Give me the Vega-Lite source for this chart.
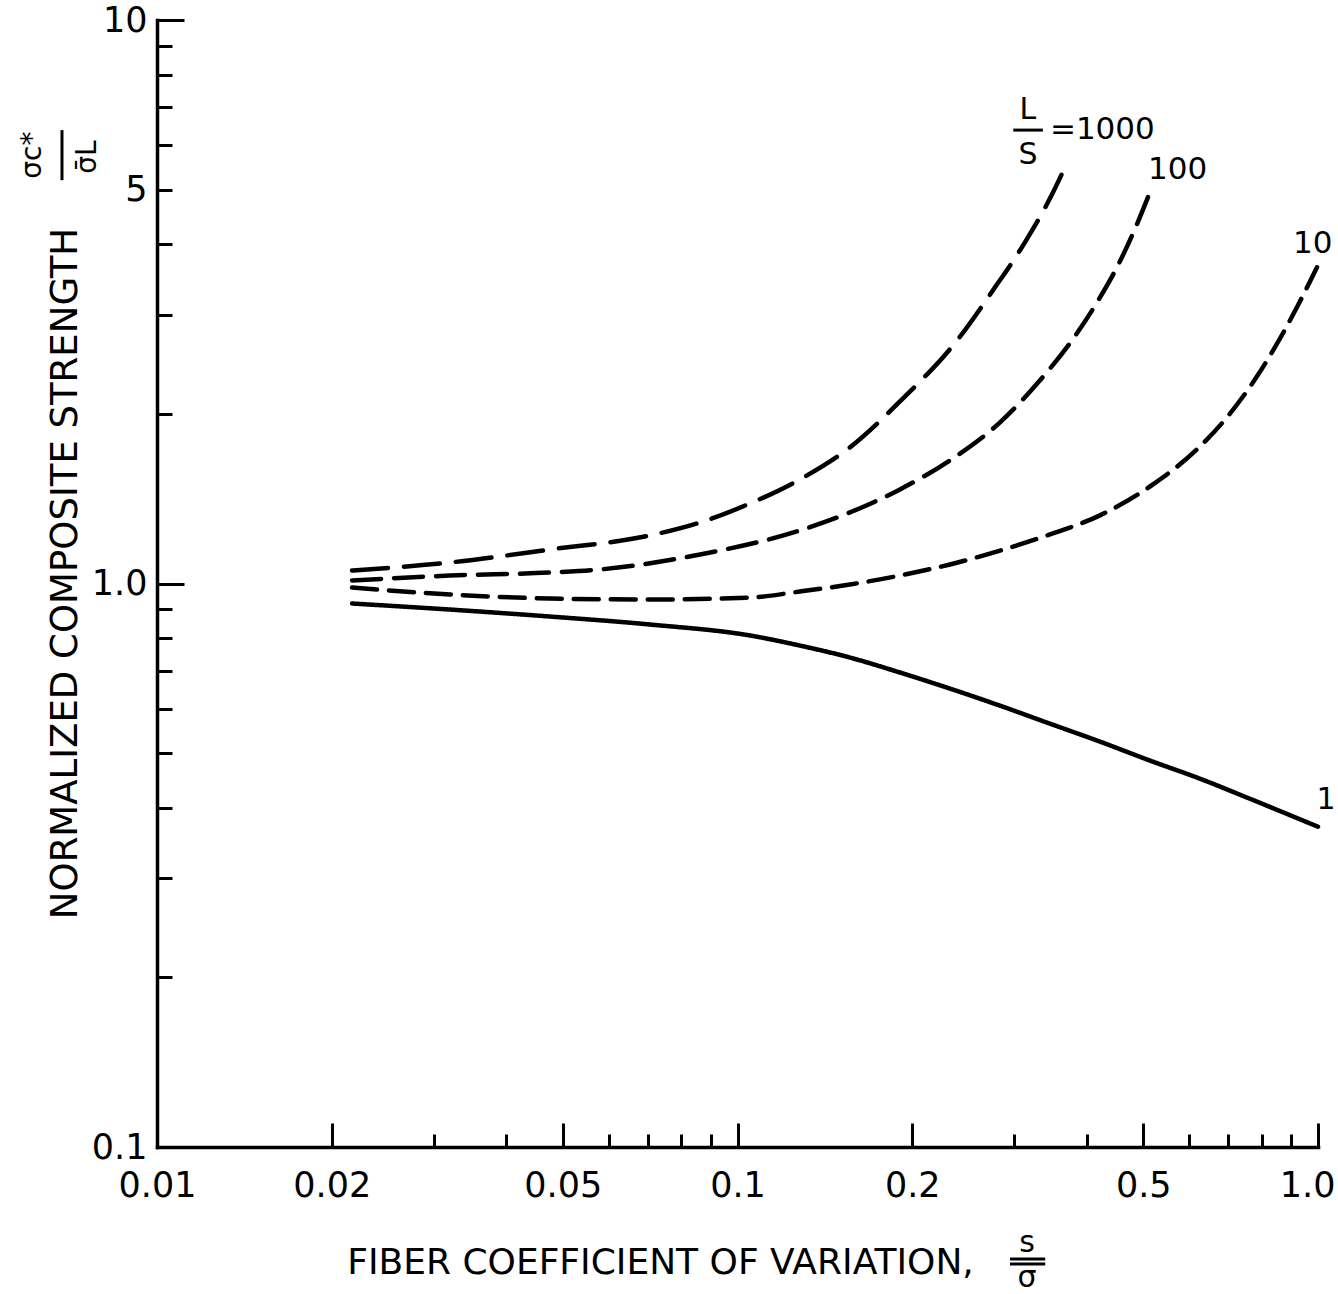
{
  "$schema": "https://vega.github.io/schema/vega-lite/v6.json",
  "width": 1161,
  "height": 1127,
  "autosize": {"type": "none"},
  "padding": {"left": 157, "top": 20, "right": 20, "bottom": 147},
  "background": "white",
  "config": {
    "view": {"stroke": null},
    "font": "DejaVu Sans",
    "axis": {
      "grid": false,
      "domainColor": "black",
      "tickColor": "black",
      "labelColor": "black",
      "titleColor": "black",
      "labelFont": "DejaVu Sans",
      "titleFont": "DejaVu Sans",
      "titleFontWeight": "normal",
      "domainWidth": 3.5,
      "tickWidth": 3,
      "domainCap": "square",
      "labelOverlap": false,
      "labelFlush": false
    }
  },
  "datasets": {
    "curves": [
      {"series": "1000", "x": 0.02168, "y": 1.0546},
      {"series": "1000", "x": 0.03197, "y": 1.0897},
      {"series": "1000", "x": 0.04753, "y": 1.149},
      {"series": "1000", "x": 0.07067, "y": 1.217},
      {"series": "1000", "x": 0.08618, "y": 1.283},
      {"series": "1000", "x": 0.1051, "y": 1.387},
      {"series": "1000", "x": 0.1281, "y": 1.53},
      {"series": "1000", "x": 0.1562, "y": 1.744},
      {"series": "1000", "x": 0.1905, "y": 2.105},
      {"series": "1000", "x": 0.2398, "y": 2.713},
      {"series": "1000", "x": 0.2755, "y": 3.314},
      {"series": "1000", "x": 0.3129, "y": 4.034},
      {"series": "1000", "x": 0.3477, "y": 4.89},
      {"series": "1000", "x": 0.3666, "y": 5.482},
      {"series": "100", "x": 0.02168, "y": 1.0124},
      {"series": "100", "x": 0.03197, "y": 1.033},
      {"series": "100", "x": 0.04753, "y": 1.046},
      {"series": "100", "x": 0.05796, "y": 1.059},
      {"series": "100", "x": 0.08618, "y": 1.126},
      {"series": "100", "x": 0.1281, "y": 1.242},
      {"series": "100", "x": 0.1562, "y": 1.337},
      {"series": "100", "x": 0.1905, "y": 1.469},
      {"series": "100", "x": 0.2323, "y": 1.654},
      {"series": "100", "x": 0.2833, "y": 1.932},
      {"series": "100", "x": 0.332, "y": 2.294},
      {"series": "100", "x": 0.377, "y": 2.702},
      {"series": "100", "x": 0.4164, "y": 3.156},
      {"series": "100", "x": 0.4505, "y": 3.641},
      {"series": "100", "x": 0.4878, "y": 4.343},
      {"series": "100", "x": 0.5136, "y": 4.95},
      {"series": "10", "x": 0.02168, "y": 0.9838},
      {"series": "10", "x": 0.03197, "y": 0.956},
      {"series": "10", "x": 0.04753, "y": 0.9405},
      {"series": "10", "x": 0.07067, "y": 0.9367},
      {"series": "10", "x": 0.1051, "y": 0.9443},
      {"series": "10", "x": 0.1281, "y": 0.9678},
      {"series": "10", "x": 0.1562, "y": 0.9959},
      {"series": "10", "x": 0.1905, "y": 1.0332},
      {"series": "10", "x": 0.2323, "y": 1.081},
      {"series": "10", "x": 0.2833, "y": 1.144},
      {"series": "10", "x": 0.3453, "y": 1.222},
      {"series": "10", "x": 0.4211, "y": 1.321},
      {"series": "10", "x": 0.5197, "y": 1.499},
      {"series": "10", "x": 0.6188, "y": 1.73},
      {"series": "10", "x": 0.6968, "y": 1.972},
      {"series": "10", "x": 0.779, "y": 2.303},
      {"series": "10", "x": 0.8431, "y": 2.626},
      {"series": "10", "x": 0.9236, "y": 3.117},
      {"series": "10", "x": 0.9961, "y": 3.641},
      {"series": "1", "x": 0.02168, "y": 0.9215},
      {"series": "1", "x": 0.03197, "y": 0.899},
      {"series": "1", "x": 0.04753, "y": 0.8737},
      {"series": "1", "x": 0.07067, "y": 0.8457},
      {"series": "1", "x": 0.1051, "y": 0.8085},
      {"series": "1", "x": 0.1281, "y": 0.7759},
      {"series": "1", "x": 0.1562, "y": 0.7388},
      {"series": "1", "x": 0.1905, "y": 0.695},
      {"series": "1", "x": 0.2323, "y": 0.6509},
      {"series": "1", "x": 0.2833, "y": 0.607},
      {"series": "1", "x": 0.3453, "y": 0.564},
      {"series": "1", "x": 0.4211, "y": 0.5241},
      {"series": "1", "x": 0.5136, "y": 0.485},
      {"series": "1", "x": 0.6262, "y": 0.4504},
      {"series": "1", "x": 0.7636, "y": 0.4149},
      {"series": "1", "x": 1.0, "y": 0.3701}
    ],
    "leftLabels": [
      {"t": "=1000", "x": 0.3453, "y": 6.377},
      {"t": "100", "x": 0.5096, "y": 5.414},
      {"t": "10", "x": 0.9056, "y": 4.0}
    ],
    "centerLabels": [
      {"t": "L", "x": 0.3165, "y": 6.921},
      {"t": "S", "x": 0.3165, "y": 5.758},
      {"t": "1", "x": 1.0322, "y": 0.4134}
    ],
    "xfrac": [
      {"t": "s", "x": 0.3153, "y": 0.0651},
      {"t": "σ", "x": 0.3153, "y": 0.0564}
    ],
    "yfrac": [
      {"t": "σc*", "x": 0.006115, "y": 5.758},
      {"t": "σ̄L", "x": 0.0076, "y": 5.711}
    ],
    "bars": [
      {"x": 0.2986, "x2": 0.3358, "y": 6.377, "y2": 6.377},
      {"x": 0.2947, "x2": 0.3389, "y": 0.0633, "y2": 0.0633},
      {"x": 0.2947, "x2": 0.3389, "y": 0.062, "y2": 0.062},
      {"x": 0.00686, "x2": 0.00686, "y": 6.377, "y2": 5.197}
    ]
  },
  "layer": [
    {
      "data": {"name": "curves"},
      "mark": {"type": "line", "color": "black", "strokeWidth": 4.5, "strokeCap": "round", "interpolate": "monotone"},
      "encoding": {
        "x": {
          "field": "x", "type": "quantitative",
          "scale": {"type": "log", "domain": [0.01, 1], "nice": false},
          "axis": {"orient": "bottom", "values": [0.03, 0.04, 0.06, 0.07, 0.08, 0.09, 0.3, 0.4, 0.6, 0.7, 0.8, 0.9], "labels": false, "tickSize": -13, "title": null, "domain": true}
        },
        "y": {
          "field": "y", "type": "quantitative",
          "scale": {"type": "log", "domain": [0.1, 10], "nice": false},
          "axis": {"orient": "left", "values": [0.2, 0.3, 0.4, 0.5, 0.6, 0.7, 0.8, 0.9, 2, 3, 4, 5, 6, 7, 8, 9], "labels": false, "tickSize": -15, "title": null, "domain": true}
        },
        "strokeDash": {
          "field": "series", "type": "nominal",
          "scale": {"domain": ["1", "10", "100", "1000"], "range": [[1, 0], [25, 12], [29, 13], [36, 16]]},
          "legend": null
        }
      }
    },
    {
      "data": {"name": "leftLabels"},
      "mark": {"type": "text", "color": "black", "fontSize": 31, "align": "left", "baseline": "middle", "font": "DejaVu Sans"},
      "encoding": {
        "x": {
          "field": "x", "type": "quantitative",
          "scale": {"type": "log", "domain": [0.01, 1], "nice": false},
          "axis": {"orient": "bottom", "values": [0.01, 0.02, 0.05, 0.1, 0.2, 0.5, 1], "format": "~g", "labelExpr": "datum.value == 1 ? '1.0' : datum.label", "ticks": false, "tickSize": 0, "domain": false, "labelPadding": 21, "labelFontSize": 35, "labelBaseline": "top", "labelAlign": {"condition": {"test": "datum.value == 1", "value": "right"}, "value": "center"}, "labelOffset": {"condition": {"test": "datum.value == 1", "value": 17}, "value": 0}, "title": "FIBER COEFFICIENT OF VARIATION,", "titleFontSize": 36, "titleX": 503, "titleY": 115, "titleBaseline": "middle", "titleAlign": "center"}
        },
        "y": {
          "field": "y", "type": "quantitative",
          "scale": {"type": "log", "domain": [0.1, 10], "nice": false},
          "axis": {"orient": "left", "values": [0.1, 1, 5, 10], "format": "~g", "labelExpr": "datum.value == 1 ? '1.0' : datum.label", "ticks": false, "tickSize": 0, "domain": false, "labelPadding": 10, "labelFontSize": 35, "labelBaseline": "middle", "title": "NORMALIZED COMPOSITE STRENGTH", "titleFontSize": 37, "titleX": -92, "titleY": 553, "titleAngle": 270, "titleBaseline": "middle", "titleAlign": "center"}
        },
        "text": {"field": "t", "type": "nominal"}
      }
    },
    {
      "data": {"name": "centerLabels"},
      "mark": {"type": "text", "color": "black", "fontSize": 30, "align": "center", "baseline": "middle", "font": "DejaVu Sans"},
      "encoding": {
        "x": {
          "field": "x", "type": "quantitative",
          "scale": {"type": "log", "domain": [0.01, 1], "nice": false},
          "axis": {"orient": "bottom", "values": [0.02, 0.05, 0.1, 0.2, 0.5, 1], "labels": false, "tickSize": -24, "domain": false, "title": null}
        },
        "y": {
          "field": "y", "type": "quantitative",
          "scale": {"type": "log", "domain": [0.1, 10], "nice": false},
          "axis": {"orient": "left", "values": [1, 10], "labels": false, "tickSize": -27, "domain": false, "title": null}
        },
        "text": {"field": "t", "type": "nominal"}
      }
    },
    {
      "data": {"name": "xfrac"},
      "mark": {"type": "text", "color": "black", "fontSize": 30, "align": "center", "baseline": "alphabetic", "font": "DejaVu Sans"},
      "encoding": {
        "x": {"field": "x", "type": "quantitative", "scale": {"type": "log", "domain": [0.01, 1], "nice": false}, "axis": null},
        "y": {"field": "y", "type": "quantitative", "scale": {"type": "log", "domain": [0.1, 10], "nice": false}, "axis": null},
        "text": {"field": "t", "type": "nominal"}
      }
    },
    {
      "data": {"name": "yfrac"},
      "mark": {"type": "text", "color": "black", "fontSize": 28, "angle": 270, "align": "center", "baseline": "middle", "font": "DejaVu Sans"},
      "encoding": {
        "x": {"field": "x", "type": "quantitative", "scale": {"type": "log", "domain": [0.01, 1], "nice": false}, "axis": null},
        "y": {"field": "y", "type": "quantitative", "scale": {"type": "log", "domain": [0.1, 10], "nice": false}, "axis": null},
        "text": {"field": "t", "type": "nominal"}
      }
    },
    {
      "data": {"name": "bars"},
      "mark": {"type": "rule", "color": "black", "strokeWidth": 3},
      "encoding": {
        "x": {"field": "x", "type": "quantitative", "scale": {"type": "log", "domain": [0.01, 1], "nice": false}, "axis": null},
        "x2": {"field": "x2"},
        "y": {"field": "y", "type": "quantitative", "scale": {"type": "log", "domain": [0.1, 10], "nice": false}, "axis": null},
        "y2": {"field": "y2"}
      }
    }
  ],
  "resolve": {"axis": {"x": "independent", "y": "independent"}}
}
